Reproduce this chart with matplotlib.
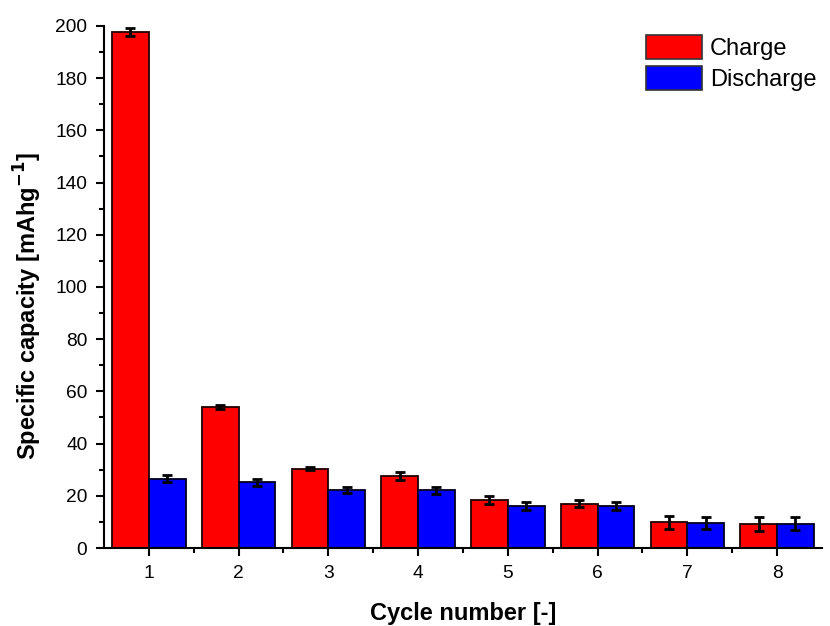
import numpy as np
import matplotlib.pyplot as plt
from matplotlib.ticker import MultipleLocator, FixedLocator

plt.rcParams['font.family'] = ['Liberation Sans', 'DejaVu Sans']

# specific capacity per cycle (mAh/g) with error bars
cycles = [1, 2, 3, 4, 5, 6, 7, 8]
charge = [197.7, 54.1, 30.3, 27.7, 18.5, 17.0, 9.8, 9.2]
charge_err = [1.5, 0.8, 0.6, 1.5, 1.6, 1.4, 2.5, 2.5]
discharge = [26.5, 25.2, 22.2, 22.1, 16.1, 16.0, 9.6, 9.3]
discharge_err = [1.3, 1.3, 1.0, 1.4, 1.5, 1.5, 2.2, 2.5]

fig = plt.figure(figsize=(8.3, 6.26), dpi=100)
ax = fig.add_axes([0.1253, 0.1246, 0.865, 0.834])

x = np.array(cycles)
w = 0.41
err_kw = dict(ecolor='k', elinewidth=2, capsize=3.6, capthick=2, clip_on=False)
ax.bar(x - w / 2, charge, w, yerr=charge_err, color='#ff0000',
       edgecolor='#200000', linewidth=1.3, label='Charge', error_kw=err_kw)
ax.bar(x + w / 2, discharge, w, yerr=discharge_err, color='#0000ff',
       edgecolor='#000020', linewidth=1.3, label='Discharge', error_kw=err_kw)

ax.set_xlim(0.5, 8.5)
ax.set_ylim(0, 200)
ax.set_xticks(cycles)
ax.xaxis.set_minor_locator(FixedLocator(np.arange(1.5, 8.5, 1)))
ax.yaxis.set_major_locator(MultipleLocator(20))
ax.yaxis.set_minor_locator(MultipleLocator(10))

for side in ['top', 'right']:
    ax.spines[side].set_visible(False)
for side in ['left', 'bottom']:
    ax.spines[side].set_linewidth(1.5)

ax.tick_params(which='major', direction='out', length=6, width=1.5,
               labelsize=13.8, pad=6)
ax.tick_params(which='minor', direction='out', length=3.5, width=1.5)

ax.set_xlabel('Cycle number [-]', fontsize=17, fontweight='bold')
ax.set_ylabel('Specific capacity [mAhg$^{\\mathbf{-1}}$]', fontsize=17,
              fontweight='bold')
ax.xaxis.set_label_coords(0.5, -0.103)
ax.yaxis.set_label_coords(-0.084, 0.463)

leg = fig.legend(loc='upper left', bbox_to_anchor=(645.7 / 830, 1 - 35 / 626),
                 frameon=False, fontsize=17, handlelength=2.37, handleheight=1.2,
                 handletextpad=0.35, labelspacing=0.25, borderpad=0,
                 borderaxespad=0)
for h in leg.legend_handles:
    h.set_edgecolor('#333333')
    h.set_linewidth(1.2)

fig.savefig('out.png', dpi=100)
